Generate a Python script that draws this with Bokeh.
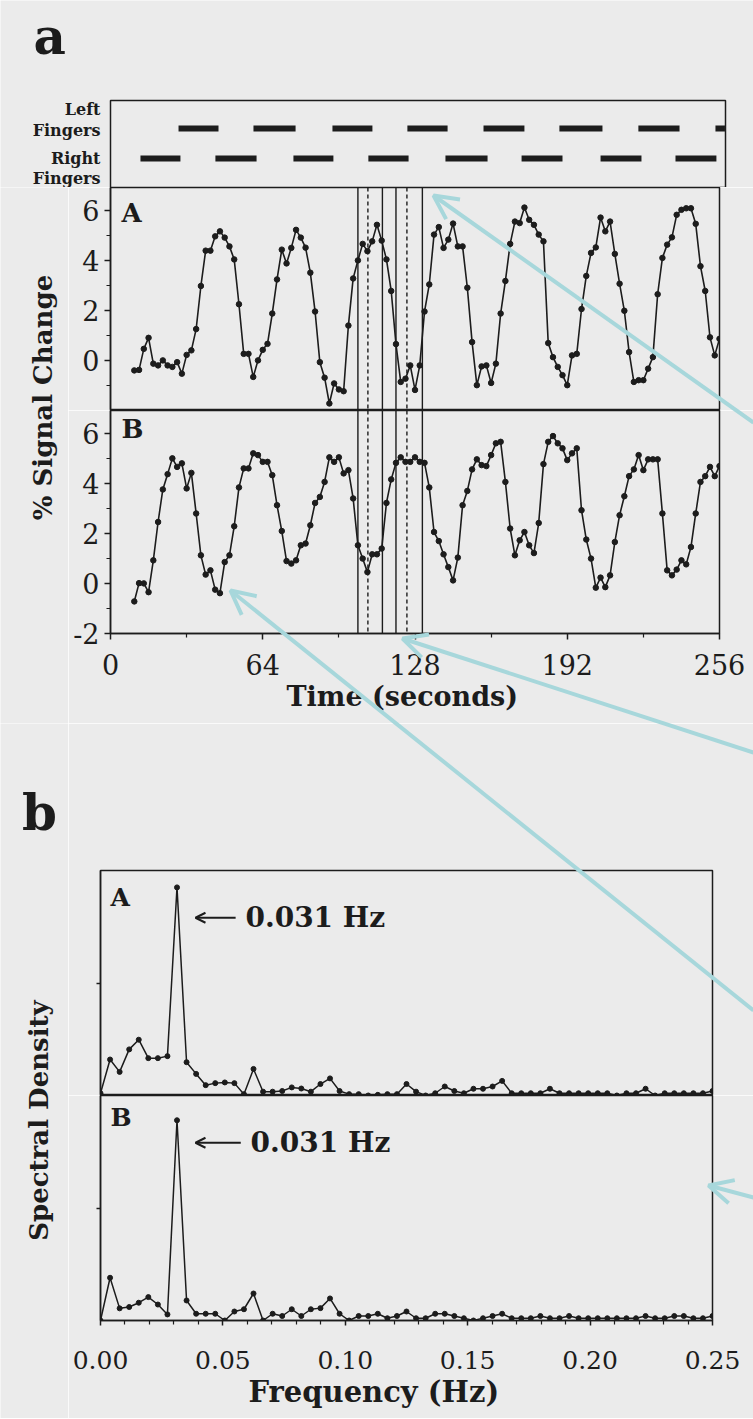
from bokeh.plotting import figure
from bokeh.models import (Range1d, FixedTicker, Span, Label, Arrow, OpenHead,
                          PrintfTickFormatter, Title, GridBox)
from bokeh.layouts import column, row
from bokeh.embed import file_html
from bokeh.resources import INLINE
import math

FONT = "DejaVu Serif"
INK = "#1c1c1c"
BG = "#ebebeb"
CYAN = "#a7d7db"

# ---------------- data ----------------
time_s = list(range(10, 257, 2))
signal_a = [-0.40, -0.38, 0.46, 0.90, -0.13, -0.20, 0.00, -0.20, -0.26, -0.07,
            -0.53, 0.22, 0.40, 1.25, 2.97, 4.38, 4.38, 4.95, 5.15, 4.90,
            4.55, 4.03, 2.24, 0.26, 0.26, -0.66, 0.00, 0.42, 0.66, 1.87,
            3.23, 4.42, 3.87, 4.49, 5.21, 4.90, 4.50, 3.50, 1.95, -0.07,
            -0.69, -1.72, -0.92, -1.16, -1.23, 1.39, 3.27, 3.99, 4.65, 4.36,
            4.75, 5.41, 4.78, 4.03, 2.77, 0.65, -0.86, -0.73, -0.20, -1.18,
            -0.20, 1.95, 3.03, 5.02, 5.32, 4.49, 4.82, 5.46, 4.55, 4.55,
            2.90, 0.73, -0.99, -0.24, -0.20, -0.90, -0.13, 1.87, 3.17, 4.65,
            5.54, 5.48, 6.10, 5.61, 5.41, 5.02, 4.75, 0.69, 0.13, -0.26,
            -0.59, -0.99, 0.20, 0.26, 2.05, 3.37, 4.29, 4.51, 5.70, 5.15,
            5.54, 4.25, 3.06, 1.98, 0.33, -0.86, -0.79, -0.79, -0.33, 0.13,
            2.64, 4.09, 4.62, 4.91, 5.81, 6.01, 6.07, 6.07, 5.45, 3.76,
            2.77, 0.92, 0.20, 0.86]
signal_b = [-0.72, 0.01, 0.00, -0.35, 0.92, 2.45, 3.75, 4.36, 4.99, 4.65,
            4.79, 3.79, 4.41, 2.79, 1.12, 0.35, 0.52, -0.25, -0.39, 0.85,
            1.12, 2.28, 3.83, 4.59, 4.59, 5.19, 5.12, 4.85, 4.85, 4.32,
            3.12, 2.09, 0.89, 0.79, 0.92, 1.52, 1.59, 2.32, 3.21, 3.45,
            4.05, 5.03, 4.85, 5.03, 4.39, 4.52, 3.39, 1.52, 0.99, 0.45,
            1.16, 1.16, 1.39, 3.21, 4.15, 4.81, 5.03, 4.85, 4.85, 5.03,
            4.85, 4.81, 3.83, 2.05, 1.69, 1.16, 0.65, 0.12, 1.03, 3.12,
            3.69, 4.55, 4.95, 4.72, 4.68, 5.12, 5.59, 5.65, 4.05, 2.19,
            1.12, 1.72, 2.05, 1.52, 1.21, 2.41, 4.76, 5.65, 5.88, 5.59,
            5.39, 4.92, 5.19, 5.39, 2.92, 1.75, 0.99, -0.17, 0.23, -0.15,
            0.32, 1.65, 2.72, 3.48, 4.28, 4.55, 5.12, 4.52, 4.95, 4.95,
            4.95, 2.79, 0.52, 0.32, 0.55, 0.92, 0.76, 1.45, 2.79, 4.05,
            4.28, 4.65, 4.28, 4.68]

right_on = [12.6, 44.1, 76.9, 108.4, 140.8, 172.8, 206.0, 237.5]
right_off = [29.4, 61.4, 93.7, 125.3, 158.5, 190.0, 223.2, 254.7]
left_on = [28.6, 60.1, 93.3, 124.8, 156.8, 188.7, 221.9, 254.3]
left_off = [45.4, 77.8, 110.1, 141.7, 174.0, 206.8, 239.2, 271.0]

window_solid = [104.0, 114.3, 120.0, 131.1]
window_dashed = [108.2, 124.6]

time_ticks = [0, 64, 128, 192, 256]
time_minor = [32, 96, 160, 224]
sig_ticks_a = [0, 2, 4, 6]
sig_ticks_b = [-2, 0, 2, 4, 6]
sig_minor = [-1, 1, 3, 5]

freq_hz = [k / 256 for k in range(65)]
density_a = [0.01, 0.16, 0.105, 0.205, 0.248, 0.166, 0.166, 0.175, 0.925, 0.148,
             0.096, 0.046, 0.055, 0.058, 0.055, 0.006, 0.118, 0.017, 0.017, 0.02,
             0.036, 0.031, 0.017, 0.051, 0.076, 0.02, 0.006, 0.006, 0.0, 0.003,
             0.006, 0.006, 0.051, 0.017, 0.0, 0.01, 0.04, 0.02, 0.01, 0.03,
             0.03, 0.04, 0.065, 0.01, 0.01, 0.01, 0.01, 0.03, 0.01, 0.01,
             0.01, 0.01, 0.01, 0.01, 0.0, 0.01, 0.01, 0.03, 0.0, 0.01,
             0.01, 0.01, 0.01, 0.01, 0.02]
density_b = [0.0, 0.19, 0.054, 0.06, 0.079, 0.104, 0.071, 0.027, 0.89, 0.089,
             0.03, 0.03, 0.03, 0.0, 0.04, 0.05, 0.12, 0.0, 0.03, 0.02,
             0.05, 0.02, 0.05, 0.055, 0.098, 0.03, 0.0, 0.02, 0.02, 0.03,
             0.01, 0.02, 0.04, 0.01, 0.01, 0.03, 0.03, 0.02, 0.01, 0.0,
             0.01, 0.02, 0.03, 0.01, 0.01, 0.01, 0.02, 0.01, 0.01, 0.02,
             0.01, 0.01, 0.01, 0.01, 0.01, 0.01, 0.01, 0.02, 0.01, 0.01,
             0.02, 0.02, 0.01, 0.01, 0.02]
freq_ticks = [0.0, 0.05, 0.10, 0.15, 0.20, 0.25]
freq_minor = [i / 100 for i in range(1, 25) if i % 5]
peak_text = "0.031 Hz"

# ---------------- layout (page pixels) ----------------
W_ALL, W_LAB = 753, 68
W_PAN = W_ALL - W_LAB
H_FING, H_TA, H_TB, H_SA, H_SB = 187, 223, 313, 372, 323
H_ALL = H_FING + H_TA + H_TB + H_SA + H_SB
PX_PER_S = 609 / 256      # time axis: 0 s at x=110, 256 s at x=719


def base_fig(w, h, xr, yr, left=0, right=0, top=0, bottom=0, xloc=None, yloc=None,
             outline=True, bg=BG):
    p = figure(width=w, height=h, x_range=Range1d(*xr), y_range=Range1d(*yr),
               x_axis_location=xloc, y_axis_location=yloc, toolbar_location=None,
               output_backend="svg", title=None,
               min_border_left=left, min_border_right=right,
               min_border_top=top, min_border_bottom=bottom,
               background_fill_color=bg, border_fill_color=bg,
               outline_line_color=INK if outline else None, outline_line_width=1.5)
    p.grid.visible = False
    return p


def style_axis(ax, size, tick_out=6, minor_out=4, standoff=5):
    ax.axis_line_color = INK
    ax.axis_line_width = 1.5
    ax.major_tick_line_color = INK
    ax.major_tick_line_width = 1.5
    ax.minor_tick_line_color = INK
    ax.minor_tick_line_width = 1.2
    ax.major_tick_in = 0
    ax.major_tick_out = tick_out
    ax.minor_tick_in = 0
    ax.minor_tick_out = minor_out
    ax.major_label_standoff = standoff
    ax.major_label_text_font = FONT
    ax.major_label_text_font_size = size
    ax.major_label_text_color = INK


def lab(p, text, x, y, size, bold=True, xo=0, yo=0, align="left", base="top", angle=0):
    p.add_layout(Label(x=x, y=y, x_offset=xo, y_offset=yo, text=text,
                       text_font=FONT, text_font_size=size,
                       text_font_style="bold" if bold else "normal",
                       text_color=INK, text_align=align, text_baseline=base, angle=angle))


# ---------------- fingers panel (frame fills its canvas) ----------------
f0 = base_fig(W_ALL, H_FING, (-110 / PX_PER_S, (W_ALL - 110) / PX_PER_S), (0, H_FING / 87),
              outline=False)
f0.quad(left=[0], right=[(725 - 110) / PX_PER_S], bottom=[0], top=[1],
        fill_color=None, line_color=INK, line_width=1.5)
f0.segment(x0=left_on, y0=[0.678] * len(left_on), x1=[min(v, 258.3) for v in left_off],
           y1=[0.678] * len(left_on), line_width=6, line_color=INK, line_cap="butt")
f0.segment(x0=right_on, y0=[0.333] * len(right_on), x1=right_off, y1=[0.333] * len(right_on),
           line_width=6, line_color=INK, line_cap="butt")
name_x = -10 / PX_PER_S
for txt, yy in (("Left", 0.897), ("Fingers", 0.655), ("Right", 0.333), ("Fingers", 0.10)):
    lab(f0, txt, name_x, yy, "16px", align="right", base="middle")
lab(f0, "a", -77 / PX_PER_S, (187 - 36) / 87, "50px", base="middle")


# ---------------- time series panels ----------------
def time_fig(h, bottom, values, ticks, letter, letter_yo):
    p = base_fig(W_PAN, h, (0, 256), (-2, 6.9), 110 - W_LAB, W_ALL - 719, 0, bottom,
                 xloc="below" if bottom else None, yloc="left")
    style_axis(p.yaxis[0], "27px", standoff=5)
    p.yaxis[0].ticker = FixedTicker(ticks=ticks, minor_ticks=sig_minor)
    p.yaxis[0].major_label_overrides = {-2: "-2"}
    if bottom:
        style_axis(p.xaxis[0], "27px", standoff=14)
        p.xaxis[0].ticker = FixedTicker(ticks=time_ticks, minor_ticks=time_minor)
    for loc in window_solid:
        p.add_layout(Span(location=loc, dimension="height", line_color=INK, line_width=1.4))
    for loc in window_dashed:
        p.add_layout(Span(location=loc, dimension="height", line_color=INK, line_width=1.4,
                          line_dash="4 3"))
    p.line(time_s, values, line_color=INK, line_width=1.6)
    p.scatter(time_s, values, size=5.5, fill_color=INK, line_color=INK)
    lab(p, letter, 0, 6.9, "26px", xo=11, yo=letter_yo)
    return p


fa = time_fig(H_TA, 0, signal_a, sig_ticks_a, "A", -10)
fb = time_fig(H_TB, H_TB - H_TA, signal_b, sig_ticks_b, "B", -3)
fb.add_layout(Title(text="Time (seconds)", align="left", offset=176, standoff=2,
                    text_font=FONT, text_font_size="27px", text_font_style="bold",
                    text_color=INK), "below")


# ---------------- spectral panels ----------------
def spec_fig(h, top, bottom, values, letter, letter_yo, text_x):
    p = base_fig(W_PAN, h, (0, 0.25), (0, 1), 100 - W_LAB, W_ALL - 712, top, bottom,
                 xloc="below" if bottom else None, yloc="left")
    style_axis(p.yaxis[0], "25px", tick_out=4, standoff=0)
    p.yaxis[0].ticker = FixedTicker(ticks=[0.5])
    p.yaxis[0].major_label_overrides = {0.5: ""}
    if bottom:
        style_axis(p.xaxis[0], "25px", tick_out=5, minor_out=4, standoff=25)
        p.xaxis[0].ticker = FixedTicker(ticks=freq_ticks, minor_ticks=freq_minor)
        p.xaxis[0].formatter = PrintfTickFormatter(format="%.2f")
    p.line(freq_hz, values, line_color=INK, line_width=1.5)
    p.scatter(freq_hz, values, size=5, fill_color=INK, line_color=INK)
    lab(p, letter, 0, 1, "25px", xo=10, yo=letter_yo)
    p.add_layout(Arrow(x_start=text_x - 0.004, y_start=0.79, x_end=0.0388, y_end=0.79,
                       line_color=INK, line_width=2,
                       end=OpenHead(size=10, line_color=INK, line_width=2)))
    lab(p, peak_text, text_x, 0.79, "28px", base="middle")
    return p


fsa = spec_fig(H_SA, H_SA - 225, 0, density_a, "A", -12, 0.0592)
fsb = spec_fig(H_SB, 0, H_SB - 225, density_b, "B", -7, 0.0613)
fsb.add_layout(Title(text="Frequency (Hz)", align="left", offset=148, standoff=2,
                     text_font=FONT, text_font_size="29px", text_font_style="bold",
                     text_color=INK), "below")

# ---------------- label columns ----------------
H_L1 = H_TA + H_TB
H_L2 = H_SA + H_SB
y_l1 = H_FING
y_l2 = H_FING + H_L1
l1 = base_fig(W_LAB, H_L1, (0, W_LAB), (H_L1, 0), outline=False)
lab(l1, "% Signal Change", 42, 397 - y_l1, "26px", align="center", base="middle",
    angle=math.pi / 2)
l2 = base_fig(W_LAB, H_L2, (0, W_LAB), (H_L2, 0), outline=False)
lab(l2, "b", 39, 812 - y_l2, "50px", align="center", base="middle")
lab(l2, "Spectral Density", 38, 1120 - y_l2, "26px", align="center", base="middle",
    angle=math.pi / 2)

# ---------------- transparent overlay with the pointer arrows (page pixels) ----------------
cyan_arrows = [((753, 422), (433, 195)), ((753, 752), (402, 638)),
               ((753, 1010), (230, 590)), ((753, 1197), (708, 1185))]
ov = figure(width=W_ALL, height=H_ALL, x_range=Range1d(0, W_ALL), y_range=Range1d(H_ALL, 0),
            x_axis_location=None, y_axis_location=None, toolbar_location=None,
            output_backend="svg", title=None, min_border=0,
            background_fill_color=None, border_fill_color=None, outline_line_color=None)
ov.grid.visible = False
for (tx, ty), (hx, hy) in cyan_arrows:
    ov.add_layout(Arrow(x_start=tx, y_start=ty, x_end=hx, y_end=hy,
                        line_color=CYAN, line_width=4,
                        end=OpenHead(size=24, line_color=CYAN, line_width=4)))

main = column(f0, row(l1, column(fa, fb)), row(l2, column(fsa, fsb)))
layout = GridBox(children=[(main, 0, 0), (ov, 0, 0)], spacing=0)
open("out.html", "w").write(file_html(layout, INLINE, title="fMRI finger tapping"))
